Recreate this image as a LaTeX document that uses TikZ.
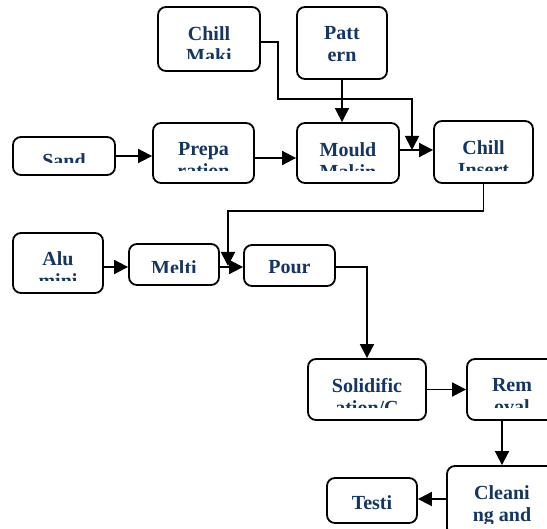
\documentclass[tikz,border=0pt]{standalone}
\usepackage{fontspec}
\setmainfont{Liberation Serif}
\usetikzlibrary{arrows.meta}
\definecolor{labelNavy}{RGB}{23, 54, 93}

\begin{document}
\begin{tikzpicture}[x=1pt, y=-1pt,
    stepbox/.style={draw=black, line width=1.8pt, rounded corners=8pt, fill=white, inner sep=0pt},
    lbl/.style={draw=none, fill=none, inner sep=0pt, minimum width=0pt, minimum height=0pt,
      align=center, text=labelNavy, font=\bfseries\fontsize{20}{22}\selectfont},
    boxtext/.style 2 args={path picture={
        \clip[rounded corners=0pt] (path picture bounding box.north west)
          rectangle ([yshift=12pt]path picture bounding box.south east);
        \node[lbl, anchor=north] at ([yshift=-#2pt]path picture bounding box.north) {#1};}},
    flow/.style={line width=1.7pt, -{Triangle[length=14pt, width=14pt]}}]
        \clip (0,0) rectangle (547,529);
        % Top row
        \node[stepbox, minimum width=102pt, minimum height=64pt, boxtext={Chill\\Maki}{19}] (chillmk) at (209,39) {};
        \node[stepbox, minimum width=90pt, minimum height=72pt, boxtext={Patt\\ern}{19}] (pattern) at (342,43) {};
        \node[stepbox, minimum width=102pt, minimum height=38pt, boxtext={Sand}{15.5}] (sand) at (64,156) {};
        \node[stepbox, minimum width=101pt, minimum height=60pt, boxtext={Prepa\\ration}{19}] (prep) at (203.5,153) {};
        \node[stepbox, minimum width=102pt, minimum height=60pt, boxtext={Mould\\Makin}{19}] (mould) at (348,153) {};
        \node[stepbox, minimum width=99pt, minimum height=62pt, boxtext={Chill\\Insert}{18.5}] (insert) at (483.5,152) {};
        % Middle row
        \node[stepbox, minimum width=90pt, minimum height=60pt, boxtext={Alu\\mini}{17.5}] (alu) at (58,263) {};
        \node[stepbox, minimum width=90pt, minimum height=41pt, boxtext={Melti}{15.5}] (melt) at (174,264.5) {};
        \node[stepbox, minimum width=91pt, minimum height=41pt, boxtext={Pour}{14.5}] (pour) at (289.5,265.5) {};
        % Bottom rows
        \node[stepbox, minimum width=118pt, minimum height=61pt, boxtext={Solidific\\ation/C}{18.5}] (solid) at (367,389.5) {};
        \node[stepbox, minimum width=90pt, minimum height=61pt, boxtext={Rem\\oval}{18.5}] (rem) at (512,389.5) {};
        \node[stepbox, minimum width=110pt, minimum height=70pt, boxtext={Cleani\\ng and}{18.5}] (clean) at (502,501) {};
        \node[stepbox, minimum width=90pt, minimum height=45pt, boxtext={Testi}{16.5}] (testi) at (372,500.5) {};

        \coordinate (cmjoin) at (412,150);
        \coordinate (cijoin) at (228,266);

        \draw[flow] (sand.east) -- (sand.east -| prep.west);
        \draw[flow] ([yshift=-5pt]prep.east) -- ([yshift=-5pt]prep.east -| mould.west);
        \draw[flow] ([yshift=3pt]mould.east) -- ([yshift=3pt]mould.east -| insert.west);
        \draw[flow] (pattern.south) -- (pattern.south |- mould.north);
        \draw[flow] ([yshift=-3pt]chillmk.east) -- ++(17,0) -- ++(0,57) -| (cmjoin);
        \draw[flow] (insert.south) -- ++(0,27) -| (cijoin);
        \draw[flow] ([yshift=-4pt]alu.east) -- ([yshift=-4pt]alu.east -| melt.west);
        \draw[flow] ([yshift=-2.5pt]melt.east) -- ([yshift=-2.5pt]melt.east -| pour.west);
        \draw[flow] ([yshift=-1.5pt]pour.east) -| (solid.north);
        \draw[flow] (solid.east) -- (rem.west);
        \draw[flow] (clean.north |- rem.south) -- (clean.north);
        \draw[flow] ([yshift=2pt]clean.west) -- ([yshift=2pt]clean.west -| testi.east);
      \end{tikzpicture}
\end{document}
